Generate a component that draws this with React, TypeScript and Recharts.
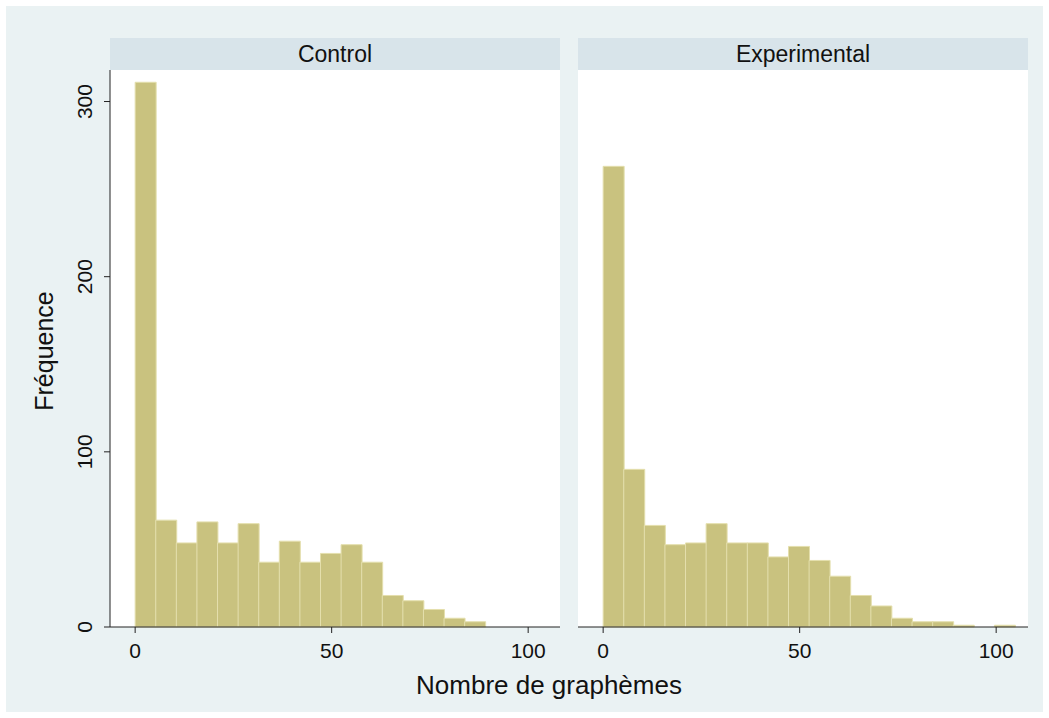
import React from "react";
import { ComposedChart, Bar, XAxis, YAxis, CartesianGrid } from "recharts";

const binWidth = 5.24;
const controlCounts = [311, 61, 48, 60, 48, 59, 37, 49, 37, 42, 47, 37, 18, 15, 10, 5, 3];
const experimentalCounts = [263, 90, 58, 47, 48, 59, 48, 48, 40, 46, 38, 29, 18, 12, 5, 3, 3, 1, 0, 1];
const xTicks = [0, 50, 100];
const yTicks = [0, 100, 200, 300];
const panelTitles = ["Control", "Experimental"];

const font = "'Liberation Sans', Arial, Helvetica, sans-serif";
const barFill = "#C9C27F";
const barStroke = "#E4DFAD";
const outerBg = "#EAF2F3";
const stripBg = "#D8E4EA";
const gridColor = "#E7EFF1";
const axisColor = "#222";

const toBins = (counts: number[]) =>
  counts.map((count, i) => ({ mid: (i + 0.5) * binWidth, count }));

const controlData = toBins(controlCounts);
const experimentalData = toBins(experimentalCounts);

function RotatedTick(props: any) {
  const { x, y, payload } = props;
  return (
    <text
      x={x}
      y={y}
      transform={`rotate(-90, ${x}, ${y})`}
      textAnchor="middle"
      fontSize={21}
      fontFamily={font}
      fill="#111"
    >
      {payload.value}
    </text>
  );
}

interface PanelProps {
  data: { mid: number; count: number }[];
  left: number;
  width: number;
  showY: boolean;
}

function Panel({ data, left, width, showY }: PanelProps) {
  return (
    <div style={{ position: "absolute", left, top: 0 }}>
      <ComposedChart
        width={width}
        height={718}
        data={data}
        margin={showY ? { top: 70, left: 70, right: 10, bottom: 51 } : { top: 70, left: 8, right: 12, bottom: 51 }}
        barCategoryGap={0}
        barGap={0}
      >
        <rect x={showY ? 110 : 8} y={70} width={450} height={557} fill="#fff" />
        <CartesianGrid vertical={false} stroke={gridColor} strokeWidth={1.5} horizontalValues={[100, 200, 300]} />
        <XAxis
          dataKey="mid"
          type="number"
          domain={[-6.4, 108.1]}
          ticks={xTicks}
          interval={0}
          height={40}
          tickSize={6}
          tickMargin={10}
          stroke={axisColor}
          tick={{ fontSize: 21, fontFamily: font, fill: "#111" }}
        />
        <YAxis
          type="number"
          domain={[0, 318]}
          ticks={yTicks}
          interval={0}
          width={40}
          hide={!showY}
          tickSize={6}
          tickMargin={12}
          stroke={axisColor}
          tick={<RotatedTick />}
        />
        <Bar
          dataKey="count"
          fill={barFill}
          stroke={barStroke}
          strokeWidth={1}
          isAnimationActive={false}
        />
      </ComposedChart>
    </div>
  );
}

export default function App() {
  return (
    <div
      style={{
        position: "absolute",
        left: 0,
        top: 0,
        width: 1049,
        height: 718,
        background: "#fff",
        fontFamily: font,
      }}
    >
      <div style={{ position: "absolute", left: 6, top: 6, width: 1037, height: 706, background: outerBg }} />
      <Panel data={controlData} left={0} width={570} showY={true} />
      <Panel data={experimentalData} left={570} width={470} showY={false} />
      {panelTitles.map((t, i) => (
        <div
          key={t}
          style={{
            position: "absolute",
            left: i === 0 ? 110 : 578,
            top: 38,
            width: 450,
            height: 32,
            background: stripBg,
            textAlign: "center",
            lineHeight: "32px",
            fontSize: 23,
            color: "#111",
          }}
        >
          {t}
        </div>
      ))}
      <svg style={{ position: "absolute", left: 0, top: 0, pointerEvents: "none" }} width={1049} height={718}>
        <text x={549} y={694} textAnchor="middle" fontSize={26} fontFamily={font} fill="#111">
          Nombre de graphèmes
        </text>
        <text
          x={53}
          y={351}
          transform="rotate(-90, 53, 351)"
          textAnchor="middle"
          fontSize={25}
          fontFamily={font}
          fill="#111"
        >
          Fréquence
        </text>
      </svg>
    </div>
  );
}
